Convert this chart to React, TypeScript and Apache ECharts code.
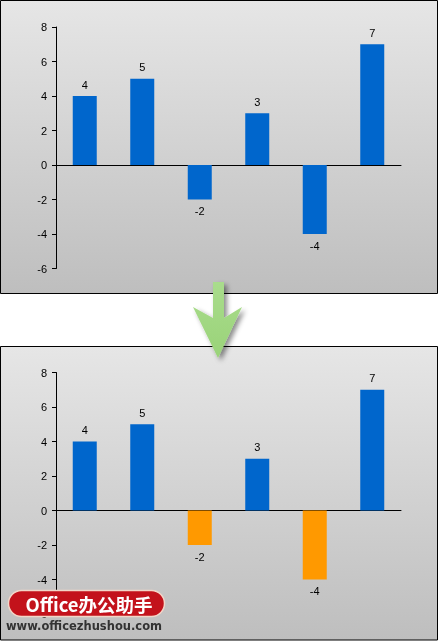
import React, { useEffect, useRef } from "react";
import * as echarts from "echarts";

const categories = ["1", "2", "3", "4", "5", "6"];
const values = [4, 5, -2, 3, -4, 7];
const yTicks = { min: -6, max: 8, interval: 2 };
const blue = "#0066cc";
const orange = "#ff9900";
const watermarkTitle = "Office办公助手";
const watermarkUrl = "www.officezhushou.com";

const FONT = "Liberation Sans";

function makeSeries(idx: number, highlightNegative: boolean) {
  return {
    type: "bar",
    xAxisIndex: idx,
    yAxisIndex: idx,
    barWidth: 24,
    z: 5,
    data: values.map((v) => ({
      value: v,
      itemStyle: { color: highlightNegative && v < 0 ? orange : blue },
      label: {
        show: true,
        position: v >= 0 ? "top" : "bottom",
        distance: 6,
        color: "#000",
        fontSize: 11,
        fontFamily: FONT,
      },
    })),
  };
}

function axesFor(idx: number) {
  const x = {
    type: "category",
    gridIndex: idx,
    data: categories,
    axisLine: { show: true, onZero: true, lineStyle: { color: "#000", width: 1 } },
    axisTick: { show: false },
    axisLabel: { show: false },
    splitLine: { show: false },
  };
  const y = {
    type: "value",
    gridIndex: idx,
    min: yTicks.min,
    max: yTicks.max,
    interval: yTicks.interval,
    axisLine: { show: true, lineStyle: { color: "#000", width: 1 } },
    axisTick: { show: true, length: 4, lineStyle: { color: "#000" } },
    axisLabel: { color: "#000", fontSize: 11, fontFamily: FONT, margin: 9 },
    splitLine: { show: false },
  };
  return { x, y };
}

export default function App() {
  const ref = useRef<HTMLDivElement>(null);
  useEffect(() => {
    if (!ref.current) return;
    const chart = echarts.init(ref.current, undefined, { renderer: "svg" });
    const a0 = axesFor(0);
    const a1 = axesFor(1);
    const bg = () =>
      new echarts.graphic.LinearGradient(0, 0, 0, 1, [
        { offset: 0, color: "#e6e6e6" },
        { offset: 1, color: "#bebebe" },
      ]);
    chart.setOption({
      animation: false,
      grid: [
        { left: 56, top: 27, width: 345, height: 241.5 },
        { left: 56, top: 372.5, width: 345, height: 241.5 },
      ],
      xAxis: [a0.x, a1.x],
      yAxis: [a0.y, a1.y],
      series: [makeSeries(0, false), makeSeries(1, true)],
      graphic: [
        {
          type: "rect",
          z: -10,
          shape: { x: 0.5, y: 0.5, width: 437, height: 293 },
          style: { fill: bg(), stroke: "#000", lineWidth: 1 },
        },
        {
          type: "rect",
          z: -10,
          shape: { x: 0.5, y: 346.5, width: 437, height: 293.5 },
          style: { fill: bg(), stroke: "#000", lineWidth: 1 },
        },
        {
          type: "polygon",
          z: 50,
          shape: {
            points: [
              [213, 282],
              [224, 282],
              [224, 318],
              [242, 307],
              [218, 358],
              [193, 307],
              [213, 318],
            ],
          },
          style: {
            fill: new echarts.graphic.LinearGradient(0, 0, 0, 1, [
              { offset: 0, color: "#a9dc8c" },
              { offset: 1, color: "#9ad379" },
            ]),
            shadowBlur: 5,
            shadowColor: "rgba(0,0,0,0.45)",
            shadowOffsetX: 3,
            shadowOffsetY: 3,
          },
        },
        {
          type: "rect",
          z: 60,
          shape: { x: 8.5, y: 590.5, width: 156, height: 26, r: 13 },
          style: { fill: "#c3121b", stroke: "#f2d6c8", lineWidth: 1.5 },
        },
        {
          type: "text",
          z: 61,
          x: 89,
          y: 603.5,
          style: {
            text: watermarkTitle,
            fill: "#ffffff",
            fontSize: 18.5,
            fontWeight: "bold",
            fontFamily: "Noto Sans CJK SC",
            align: "center",
            verticalAlign: "middle",
          },
        },
        {
          type: "text",
          z: 61,
          x: 84,
          y: 626,
          style: {
            text: watermarkUrl,
            fill: "#333333",
            fontSize: 11.5,
            fontWeight: "bold",
            fontFamily: "DejaVu Sans",
            align: "center",
            verticalAlign: "middle",
          },
        },
      ],
    });
    return () => chart.dispose();
  }, []);
  return (
    <div
      ref={ref}
      style={{ position: "fixed", left: 0, top: 0, width: 439, height: 641 }}
    />
  );
}
